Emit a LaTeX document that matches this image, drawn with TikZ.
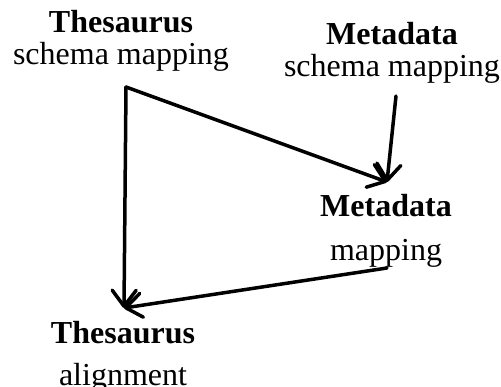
\documentclass[tikz,border=0pt]{standalone}
\usepackage{fontspec}
\setmainfont{Liberation Serif}
\usetikzlibrary{arrows.meta,calc}
\begin{document}
\begin{tikzpicture}[x=1pt,y=-1pt,
  lbl/.style={inner sep=0pt,align=center,anchor=base,font=\fontsize{32}{32}\selectfont},
  conn/.style={line width=3.5pt,line cap=round,line join=round,
    -{Straight Barb[length=16pt,width=24pt,line cap=round,line join=round]}}]
\useasboundingbox (0,0) rectangle (501,387);
\node[lbl] (ts) at (121,65) {\textbf{Thesaurus}\\[0pt]schema mapping};
\node[lbl] (ms) at (392,77) {\textbf{Metadata}\\[0pt]schema mapping};
\node[lbl] (mm) at (386,261) {\textbf{Metadata}\\[12pt]mapping};
\node[lbl] (ta) at (123,385) {\textbf{Thesaurus}\\[10pt]alignment};
\coordinate (tsout) at ($(ts.base)+(5,22)$);
\coordinate (msout) at ($(ms.base)+(4,19)$);
\coordinate (mmin) at ($(mm.base)+(1,-79)$);
\coordinate (mmout) at ($(mm.base)+(1,7)$);
\coordinate (tain) at ($(ta.base)+(1,-77)$);
\draw[conn] (tsout) -- (mmin);
\draw[conn] (msout) -- (mmin);
\draw[conn] (tsout) -- (tain);
\draw[conn] (mmout) -- (tain);
\end{tikzpicture}
\end{document}
